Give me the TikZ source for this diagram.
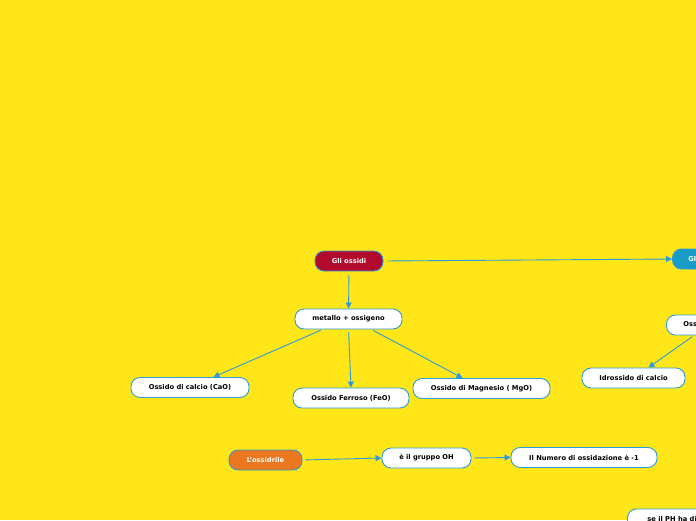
\documentclass[tikz,border=0pt]{standalone}
\usepackage{fontspec}
\setmainfont{DejaVu Sans}
\usetikzlibrary{arrows.meta}
\definecolor{sfondo}{RGB}{255,230,25}
\definecolor{bordo}{RGB}{45,155,215}
\definecolor{rosso}{RGB}{178,10,45}
\definecolor{azzurro}{RGB}{25,155,200}
\definecolor{arancio}{RGB}{235,120,30}
\tikzset{
  box/.style={draw=bordo, line width=0.9pt, fill=white, rounded corners=9pt,
    minimum height=20pt, inner sep=0pt, font=\bfseries\fontsize{6.7}{8}\selectfont},
  mainbox/.style={box, text=white},
  edgebox/.style={anchor=west, inner xsep=#1},
  link/.style={draw=bordo, line width=0.9pt, -{Triangle[length=6pt,width=6pt]}}
}
\begin{document}
\begin{tikzpicture}[x=1pt,y=-1pt]
    % Background
    \fill[sfondo] (0,0) rectangle (696,520);
    \clip (0,0) rectangle (696,520);

    % Main topics
    \node[mainbox, fill=rosso, minimum width=68pt] (ossidi) at (349,261) {Gli ossidi};
    \node[mainbox, fill=azzurro, edgebox=16pt] (idrossidi) at (672,259) {Gli idrossidi};
    \node[mainbox, fill=arancio, minimum width=73pt] (ossidrile) at (265.5,460) {L'ossidrile};

    % Oxides
    \node[box, minimum width=107pt] (metallo) at (348.5,319) {metallo + ossigeno};
    \node[box, minimum width=118pt] (cao) at (190,387.5) {Ossido di calcio (CaO)};
    \node[box, minimum width=116pt] (feo) at (351,398) {Ossido Ferroso (FeO)};
    \node[box, minimum width=137pt] (mgo) at (481.5,388.5) {Ossido di Magnesio ( MgO)};

    % Hydroxides
    \node[box, edgebox=17pt] (acqua) at (666,325) {Ossido di calcio + acqua};
    \node[box, minimum width=103pt] (calcio) at (633.5,378) {Idrossido di calcio};

    % Hydroxyl
    \node[box, minimum width=89pt] (gruppo) at (426.5,458) {è il gruppo OH};
    \node[box, minimum width=146pt] (numero) at (584,457.5) {Il Numero di ossidazione è -1};
    \node[box, edgebox=20pt, minimum height=21pt] (ph) at (627,519.5) {se il PH ha di più di 7};

    % Links
    \draw[link, shorten <=4pt] (ossidi) -- (metallo);
    \draw[link, shorten <=4pt] (ossidi.east) -- (idrossidi.west);
    \draw[link, shorten <=2pt] ([xshift=28pt]metallo.south west) -- ([xshift=-36pt]cao.north east);
    \draw[link, shorten <=3pt] (metallo.south) -- (feo.north);
    \draw[link, shorten <=2pt] ([xshift=-31pt]metallo.south east) -- ([xshift=-19pt]mgo.north);
    \draw[link, shorten <=2pt] ([xshift=28pt]acqua.south west) -- ([xshift=15pt]calcio.north);
    \draw[link, shorten <=3pt] (ossidrile.east) -- (gruppo.west);
    \draw[link, shorten <=3pt] (gruppo.east) -- (numero.west);
\end{tikzpicture}
\end{document}
